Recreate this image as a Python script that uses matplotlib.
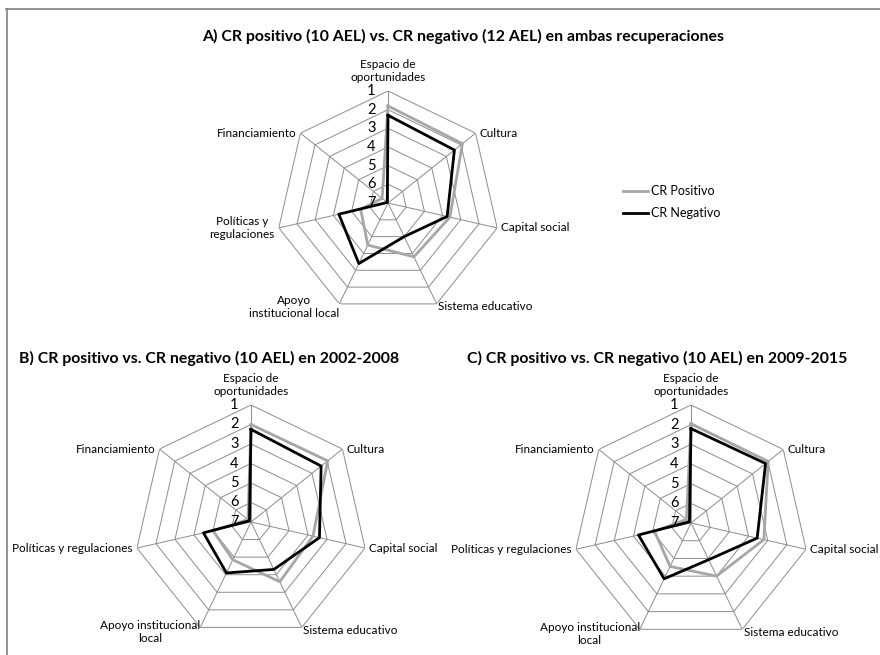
import numpy as np
import matplotlib
matplotlib.use("Agg")
import matplotlib.pyplot as plt
from matplotlib.lines import Line2D

plt.rcParams['font.family'] = ['Lato', 'DejaVu Sans']

# Categories (clockwise from top) and rank values (1 = best, outer ring)
categories = ["Espacio de oportunidades", "Cultura", "Capital social",
              "Sistema educativo", "Apoyo institucional local",
              "Políticas y regulaciones", "Financiamiento"]
rank_ticks = [1, 2, 3, 4, 5, 6, 7]

a_positivo = [1.8, 1.9, 3.6, 3.8, 4.5, 5.5, 6.6]
a_negativo = [2.3, 2.45, 3.75, 5.0, 3.4, 4.3, 6.95]

b_positivo = [2.0, 1.97, 3.74, 3.6, 4.85, 5.0, 6.8]
b_negativo = [2.25, 2.4, 3.4, 4.3, 4.1, 4.5, 6.9]

c_positivo = [1.95, 1.98, 3.2, 4.0, 4.55, 5.1, 6.7]
c_negativo = [2.2, 2.15, 3.55, 4.93, 3.85, 4.26, 6.9]

# label text per panel (line breaks differ as in the original)
labels_a = ["Espacio de\noportunidades", "Cultura", "Capital social",
            "Sistema educativo", "Apoyo\ninstitucional local",
            "Políticas y\nregulaciones", "Financiamiento"]
labels_bc = ["Espacio de\noportunidades", "Cultura", "Capital social",
             "Sistema educativo", "Apoyo institucional\nlocal",
             "Políticas y regulaciones", "Financiamiento"]

GRAY = "#a6a6a6"
GRID = "#8c8c8c"
W, H = 880, 655
LABEL_FS = 8.5


def radar(fig, cx, cy, r, pos, neg, labels):
    ax = fig.add_axes([(cx - r) / W, (H - cy - r) / H, 2 * r / W, 2 * r / H],
                      projection='polar')
    ax.set_theta_zero_location('N')
    ax.set_theta_direction(-1)
    ax.set_ylim(7, 1)
    ax.grid(False)
    ax.set_xticks([])
    ax.set_yticks([])
    ax.spines['polar'].set_visible(False)
    ax.patch.set_alpha(0)

    n = len(categories)
    theta = np.arange(n) * 2 * np.pi / n
    closed = np.append(theta, theta[0])

    # heptagon rings and spokes
    for k in rank_ticks[:-1]:
        ax.plot(closed, [k] * (n + 1), color=GRID, lw=0.7, zorder=1)
    for t in theta:
        ax.plot([t, t], [7, 1], color=GRID, lw=0.7, zorder=1)

    ax.plot(closed, pos + pos[:1], color=GRAY, lw=2.0, zorder=3)
    ax.plot(closed, neg + neg[:1], color="black", lw=2.0, zorder=4)

    # rank tick labels to the left of the top spoke
    for k in rank_ticks:
        ax.annotate(str(k), xy=(0, k), xytext=(-9, 0), textcoords='offset points',
                    ha='right', va='center', fontsize=10.5, zorder=5)

    # category labels
    for t, lab in zip(theta, labels):
        s, c = np.sin(t), np.cos(t)
        if abs(s) < 0.1:
            ha, va, off = 'center', 'bottom', (0, 6)
        elif lab.startswith("Apoyo institucional\n"):
            ha, va, off = 'right', 'top', (0, 5)
        elif c < -0.5 and s > 0:
            ha, va, off = 'left', 'center', (1, -2)
        elif c < -0.5:
            ha, va, off = 'right', 'center', (0, -2)
        else:
            ha = 'left' if s > 0 else 'right'
            va = 'center'
            off = (3 if s > 0 else -3, 0)
        ax.annotate(lab, xy=(t, 1), xytext=off, textcoords='offset points',
                    ha=ha, va=va, fontsize=LABEL_FS, multialignment='center')
    return ax


fig = plt.figure(figsize=(8.8, 6.55), dpi=100)

radar(fig, 388, 203, 112, a_positivo, a_negativo, labels_a)
radar(fig, 251, 522, 117, b_positivo, b_negativo, labels_bc)
radar(fig, 691, 523, 118, c_positivo, c_negativo, labels_bc)

fig.text(463 / W, 1 - 36 / H,
         "A) CR positivo (10 AEL) vs. CR negativo (12 AEL) en ambas recuperaciones",
         ha='center', va='center', fontsize=11.4, fontweight='bold')
fig.text(209 / W, 1 - 358 / H,
         "B) CR positivo vs. CR negativo (10 AEL) en 2002-2008",
         ha='center', va='center', fontsize=11.4, fontweight='bold')
fig.text(657 / W, 1 - 358 / H,
         "C) CR positivo vs. CR negativo (10 AEL) en 2009-2015",
         ha='center', va='center', fontsize=11.4, fontweight='bold')

# legend
handles = [Line2D([], [], color=GRAY, lw=2.0), Line2D([], [], color="black", lw=2.0)]
fig.legend(handles, ["CR Positivo", "CR Negativo"], loc='center left',
           bbox_to_anchor=(612 / W, 1 - 202 / H), frameon=False, fontsize=9,
           handlelength=2.0, handletextpad=0.2, labelspacing=0.8)

# chart frame (top and left edges visible)
fig.add_artist(Line2D([6 / W, 1], [1 - 8.5 / H, 1 - 8.5 / H], color="#808080", lw=1.2))
fig.add_artist(Line2D([6.5 / W, 6.5 / W], [0, 1 - 8.5 / H], color="#808080", lw=1.2))

fig.savefig("out.png", dpi=100)
